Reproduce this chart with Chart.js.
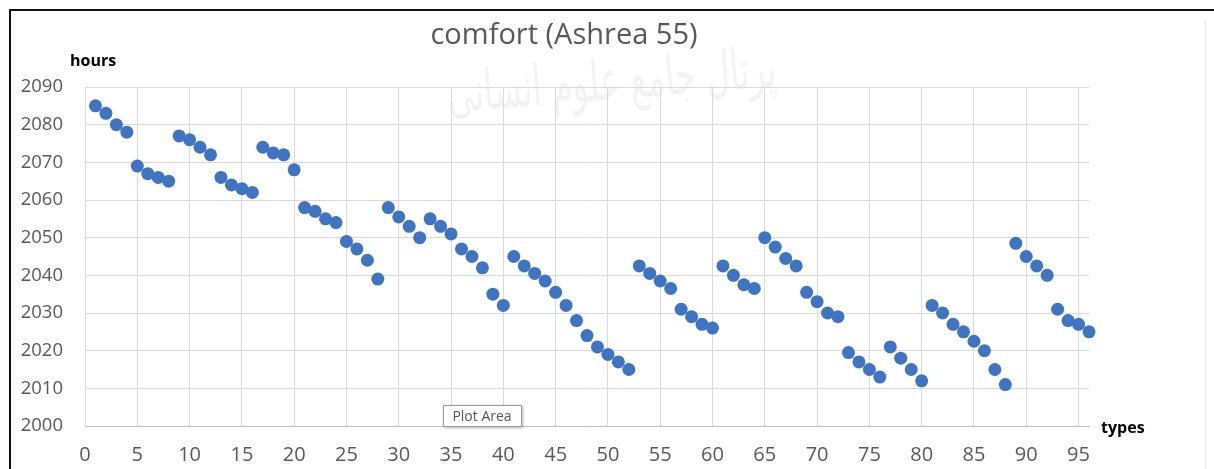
<!DOCTYPE html>
<html>
<head>
<meta charset="utf-8">
<script src="https://cdn.jsdelivr.net/npm/chart.js@4.4.0/dist/chart.umd.min.js"></script>
<style>
  body { margin: 0; background: #fff; }
  #wrap { width: 1214px; height: 469px; }
</style>
</head>
<body>
<div id="wrap"><canvas id="comfortChart" width="1214" height="469"></canvas></div>
<script>
// data
var types = [1, 2, 3, 4, 5, 6, 7, 8, 9, 10, 11, 12, 13, 14, 15, 16, 17, 18, 19, 20,
    21, 22, 23, 24, 25, 26, 27, 28, 29, 30, 31, 32, 33, 34, 35, 36, 37, 38, 39, 40,
    41, 42, 43, 44, 45, 46, 47, 48, 49, 50, 51, 52, 53, 54, 55, 56, 57, 58, 59, 60,
    61, 62, 63, 64, 65, 66, 67, 68, 69, 70, 71, 72, 73, 74, 75, 76, 77, 78, 79, 80,
    81, 82, 83, 84, 85, 86, 87, 88, 89, 90, 91, 92, 93, 94, 95, 96];
var hours = [2085, 2083, 2080, 2078, 2069, 2067, 2066, 2065, 2077, 2076, 2074, 2072,
    2066, 2064, 2063, 2062, 2074, 2072.5, 2072, 2068, 2058, 2057, 2055, 2054,
    2049, 2047, 2044, 2039, 2058, 2055.5, 2053, 2050, 2055, 2053, 2051, 2047,
    2045, 2042, 2035, 2032, 2045, 2042.5, 2040.5, 2038.5, 2035.5, 2032, 2028, 2024,
    2021, 2019, 2017, 2015, 2042.5, 2040.5, 2038.5, 2036.5, 2031, 2029, 2027, 2026,
    2042.5, 2040, 2037.5, 2036.5, 2050, 2047.5, 2044.5, 2042.5, 2035.5, 2033, 2030, 2029,
    2019.5, 2017, 2015, 2013, 2021, 2018, 2015, 2012, 2032, 2030, 2027, 2025,
    2022.5, 2020, 2015, 2011, 2048.5, 2045, 2042.5, 2040, 2031, 2028, 2027, 2025];
var xTicks = [0, 5, 10, 15, 20, 25, 30, 35, 40, 45, 50, 55, 60, 65, 70, 75, 80, 85, 90, 95];
var yTicks = [2000, 2010, 2020, 2030, 2040, 2050, 2060, 2070, 2080, 2090];

var points = [];
for (var i = 0; i < types.length; i++) {
    points.push({ x: types[i], y: hours[i] });
}

// texts and frame drawn around the plot
var extras = {
    id: 'extras',
    beforeDraw: function (chart) {
        var ctx = chart.ctx;
        ctx.save();
        // faint watermark
        ctx.fillStyle = 'rgba(120,120,120,0.09)';
        ctx.font = '56px "DejaVu Sans"';
        ctx.textAlign = 'center';
        ctx.textBaseline = 'middle';
        ctx.translate(612, 85);
        ctx.rotate(-0.08);
        ctx.fillText('پرتال جامع علوم انسانی', 0, 0, 330);
        ctx.restore();
    },
    afterDraw: function (chart) {
        var ctx = chart.ctx;
        ctx.save();
        // black frame on top and left
        ctx.fillStyle = '#111';
        ctx.fillRect(10, 9, 1204, 2);
        ctx.fillRect(9, 9, 2, 460);
        ctx.fillStyle = '#e6e6e6';
        ctx.fillRect(1205, 20, 1, 449);

        ctx.fillStyle = '#595959';
        ctx.font = '29px "Open Sans"';
        ctx.textAlign = 'center';
        ctx.textBaseline = 'middle';
        ctx.fillText('comfort (Ashrea 55)', 564, 36);

        ctx.fillStyle = '#000';
        ctx.font = 'bold 16px "Open Sans"';
        ctx.textAlign = 'left';
        ctx.fillText('hours', 70, 61);
        ctx.fillText('types', 1101, 428);

        // "Plot Area" tooltip box
        ctx.shadowColor = 'rgba(0,0,0,0.3)';
        ctx.shadowBlur = 3;
        ctx.shadowOffsetX = 1;
        ctx.shadowOffsetY = 1;
        ctx.fillStyle = '#fff';
        ctx.fillRect(443, 405, 79, 22);
        ctx.shadowColor = 'transparent';
        ctx.strokeStyle = '#9a9a9a';
        ctx.lineWidth = 1;
        ctx.strokeRect(443.5, 405.5, 78, 21);
        ctx.fillStyle = '#555';
        ctx.font = '14px "Open Sans"';
        ctx.textAlign = 'center';
        ctx.fillText('Plot Area', 482, 417);
        ctx.restore();
    }
};

var ctx = document.getElementById('comfortChart').getContext('2d');
new Chart(ctx, {
    type: 'scatter',
    data: {
        datasets: [{
            label: 'hours',
            data: points,
            backgroundColor: '#3E74C1',
            borderWidth: 0,
            pointRadius: 6.5,
            pointHoverRadius: 6.5,
            clip: false
        }]
    },
    options: {
        responsive: false,
        animation: false,
        layout: { padding: { left: 0, top: 87, right: 125, bottom: 0 } },
        plugins: {
            legend: { display: false },
            tooltip: { enabled: false },
            title: { display: false }
        },
        scales: {
            x: {
                type: 'linear',
                min: 0,
                max: 96,
                afterBuildTicks: function (axis) {
                    axis.ticks = xTicks.map(function (v) { return { value: v }; });
                },
                afterFit: function (axis) { axis.height = 43; },
                grid: { color: '#D9D9D9', drawTicks: false },
                border: { color: '#BFBFBF' },
                ticks: {
                    padding: 17,
                    color: '#595959',
                    font: { family: 'Open Sans', size: 20 },
                    maxRotation: 0,
                    autoSkip: false
                }
            },
            y: {
                min: 2000,
                max: 2090,
                afterBuildTicks: function (axis) {
                    axis.ticks = yTicks.map(function (v) { return { value: v }; });
                },
                afterFit: function (axis) { axis.width = 85; },
                grid: { color: '#D9D9D9', drawTicks: false },
                border: { color: '#D9D9D9' },
                ticks: {
                    padding: 22,
                    color: '#595959',
                    font: { family: 'Open Sans', size: 18.5 },
                    callback: function (value) { return String(value); }
                }
            }
        }
    },
    plugins: [extras]
});
</script>
</body>
</html>
